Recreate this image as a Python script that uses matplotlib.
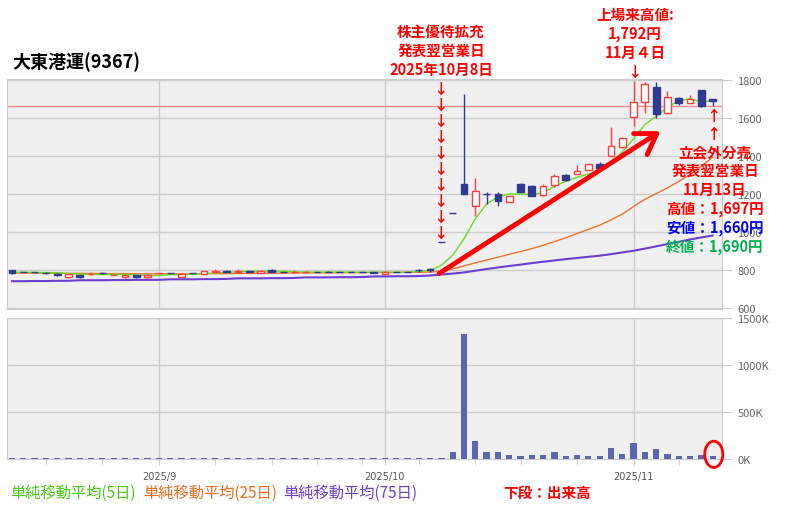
import numpy as np
import matplotlib.pyplot as plt
from matplotlib.patches import Ellipse

plt.rcParams['font.family'] = ['Noto Sans CJK JP', 'DejaVu Sans']

# daily bars, 2025/8/13 .. 2025/11/13 (63 trading days)
opens = [799, 790, 788, 786, 782, 763, 773, 780, 785, 775, 762, 772, 762,
         785, 786, 762, 785, 782, 788, 795, 788, 793, 785, 800, 790, 788,
         789, 791, 792, 789, 790, 789, 790, 781, 791, 791, 801, 805,
         950, 1100, 1252, 1139, 1202, 1200, 1160, 1252, 1244, 1195, 1247, 1300,
         1305, 1328, 1357, 1398, 1445, 1602, 1685, 1760, 1624, 1702, 1678, 1748, 1697]
highs = [800, 791, 790, 790, 783, 779, 774, 790, 790, 778, 773, 773, 773,
         787, 787, 779, 786, 796, 806, 800, 808, 798, 800, 805, 791, 799,
         795, 792, 793, 790, 791, 790, 791, 793, 792, 792, 808, 810,
         950, 1100, 1725, 1284, 1210, 1209, 1191, 1258, 1248, 1251, 1305, 1305,
         1352, 1358, 1366, 1550, 1497, 1792, 1790, 1790, 1742, 1707, 1720, 1748, 1697]
lows = [782, 788, 786, 780, 771, 761, 761, 775, 778, 774, 761, 761, 761,
        783, 785, 761, 784, 781, 787, 789, 787, 788, 784, 788, 787, 787,
        785, 789, 789, 788, 788, 788, 786, 780, 790, 789, 790, 790,
        950, 1100, 1200, 1086, 1150, 1139, 1160, 1209, 1188, 1188, 1235, 1270,
        1305, 1328, 1331, 1398, 1440, 1559, 1625, 1597, 1620, 1667, 1678, 1655, 1660]
closes = [784, 789, 788, 784, 772, 778, 762, 782, 783, 777, 772, 762, 772,
          786, 786, 778, 785, 795, 798, 792, 797, 791, 798, 790, 788, 792,
          791, 789, 790, 789, 790, 789, 787, 792, 791, 790, 799, 800,
          950, 1100, 1200, 1217, 1198, 1165, 1191, 1212, 1191, 1244, 1296, 1275,
          1322, 1356, 1335, 1450, 1492, 1685, 1780, 1620, 1707, 1678, 1699, 1660, 1690]
volumes = [12, 8, 10, 9, 11, 10, 12, 8, 9, 10, 11, 12, 10,
           9, 8, 12, 9, 10, 11, 10, 12, 9, 10, 11, 9, 10,
           8, 10, 9, 8, 9, 10, 9, 12, 9, 10, 11, 12,
           10, 70, 1330, 196, 70, 70, 46, 35, 46, 46, 70, 35,
           46, 35, 28, 118, 57, 171, 78, 107, 54, 35, 35, 46, 35]  # 千株

ma5 = [789, 789, 788, 787, 786, 782, 779, 778, 777, 778, 778, 774, 772,
       772, 776, 776, 779, 782, 785, 788, 792, 795, 794, 795, 794, 791,
       790, 790, 790, 790, 790, 789, 789, 789, 789, 789, 794, 798,
       826, 878, 965, 1070, 1148, 1185, 1200, 1200, 1196, 1207, 1240, 1267,
       1287, 1305, 1320, 1360, 1420, 1490, 1565, 1608, 1655, 1690, 1700, 1683, 1690]
ma25 = [785, 785, 785, 784, 784, 783, 783, 783, 782, 782, 782, 781, 781,
        781, 781, 781, 781, 782, 782, 782, 783, 783, 784, 784, 785, 785,
        786, 786, 786, 787, 787, 787, 788, 788, 788, 789, 789, 790,
        795, 806, 822, 838, 853, 868, 883, 898, 913, 930, 950, 970,
        992, 1014, 1036, 1064, 1094, 1134, 1172, 1202, 1232, 1266, 1302, 1346, 1393]
ma75 = [742, 742, 743, 743, 744, 744, 747, 747, 747, 748, 748, 749, 749,
        749, 752, 752, 752, 753, 753, 754, 757, 757, 757, 758, 758, 759,
        762, 762, 762, 763, 763, 764, 767, 767, 768, 768, 769, 772,
        777, 782, 788, 797, 806, 814, 822, 829, 837, 844, 851, 858,
        864, 870, 876, 884, 893, 902, 913, 925, 937, 949, 961, 972, 982]

month_idx = [13, 33, 55]
month_labels = ['2025/9', '2025/10', '2025/11']
week_idx = [3, 8, 18, 23, 27, 31, 36, 41, 45, 50, 59]
price_ticks = [600, 800, 1000, 1200, 1400, 1600, 1800]
vol_ticks = [0, 500, 1000, 1500]
ref_price = 1662

UP = '#ff4040'
DOWN = '#2f3b92'
GRID = '#cccccc'

W, H = 790, 510
fig = plt.figure(figsize=(W / 100, H / 100), dpi=100)


def box(l, t, r, b):
    return [l / W, 1 - b / H, (r - l) / W, (b - t) / H]


def ftext(px, py, s, **kw):
    kw.setdefault('ha', 'center')
    kw.setdefault('va', 'center')
    return fig.text(px / W, 1 - py / H, s, **kw)


ax = fig.add_axes(box(7, 80, 722, 310))
axv = fig.add_axes(box(7, 319, 722, 460))

x = np.arange(len(closes))
o, h, l, c = map(np.array, (opens, highs, lows, closes))
up = c > o
edge = np.where(up, UP, DOWN)

for a in (ax, axv):
    a.set_facecolor('#f0f0f0')
    a.set_xlim(-0.44, 62.83)
    for s in a.spines.values():
        s.set_color(GRID)
    a.yaxis.tick_right()
    a.tick_params(axis='y', length=7, color=GRID, labelsize=8, labelcolor='#666666', pad=4)
    for m in month_idx:
        a.axvline(m, color=GRID, lw=1, zorder=1)

# price panel
ax.set_ylim(596, 1804)
ax.set_yticks(price_ticks)
for p in price_ticks:
    ax.axhline(p, color=GRID, lw=1, zorder=1)
ax.set_xticks([])
ax.axhline(ref_price, color='#ff8c8c', lw=1, zorder=2)

ax.plot(x, ma75, color='#6d3fd0', lw=1.5, zorder=3)
ax.plot(x, ma25, color='#f07028', lw=1, zorder=3)
ax.plot(x, ma5, color='#66dd22', lw=1, zorder=3)

ax.vlines(x, l, h, colors=edge, lw=1, zorder=4)
ax.bar(x, np.abs(c - o), bottom=np.minimum(o, c), width=0.6,
       color=np.where(up, 'white', DOWN), edgecolor=edge, lw=1, zorder=5)

ax.annotate('', xy=(57.6, 1538), xytext=(37.6, 775),
            arrowprops=dict(arrowstyle='->, head_length=0.7, head_width=0.45',
                            color='red', lw=3.5, mutation_scale=20), zorder=6)

# volume panel
axv.set_ylim(0, 1505)
axv.set_yticks(vol_ticks)
axv.set_yticklabels([f'{v}K' for v in vol_ticks])
for v in vol_ticks:
    axv.axhline(v, color=GRID, lw=1, zorder=1)
axv.bar(x, volumes, width=0.55, color='#5b66ae', zorder=3)
axv.set_xticks(month_idx)
axv.set_xticklabels(month_labels, fontsize=7, color='#555555', family='DejaVu Sans')
axv.set_xticks(week_idx, minor=True)
axv.tick_params(axis='x', which='both', length=4, color=GRID, pad=5)
axv.add_patch(Ellipse((62.1, 50), 1.6, 280, fill=False, edgecolor='red', lw=2,
                      clip_on=False, zorder=6))

# title and notes
ftext(12, 62, '大東港運(9367)', ha='left', fontsize=13, fontweight='bold')

note = dict(color='red', fontsize=10.5, fontweight='bold')
for py, s in zip([32, 51, 70], ['株主優待拡充', '発表翌営業日', '2025年10月8日']):
    ftext(441, py, s, **note)
for py in range(89, 234, 16):
    ftext(441, py, '↓', **note)

for py, s in zip([15, 34, 53], ['上場来高値:', '1,792円', '11月４日']):
    ftext(635, py, s, **note)
ftext(635, 72, '↓', **note)

for py in [116, 134]:
    ftext(714, py, '↑', **note)
for py, s, col in zip([152, 171, 190, 209, 228, 247],
                      ['立会外分売', '発表翌営業日', '11月13日',
                       '高値：1,697円', '安値：1,660円', '終値：1,690円'],
                      ['red', 'red', 'red', 'red', '#0000ee', '#00b050']):
    ftext(715, py, s, color=col, fontsize=10.5, fontweight='bold')

leg = dict(ha='left', fontsize=11)
ftext(10, 493, '単純移動平均(5日)', color='#44cc11', **leg)
ftext(143, 493, '単純移動平均(25日)', color='#ee6a1e', **leg)
ftext(283, 493, '単純移動平均(75日)', color='#6a3fc8', **leg)
ftext(503, 493, '下段：出来高', ha='left', color='red', fontsize=10.5, fontweight='bold')

fig.savefig('out.png', dpi=100, facecolor='white')
